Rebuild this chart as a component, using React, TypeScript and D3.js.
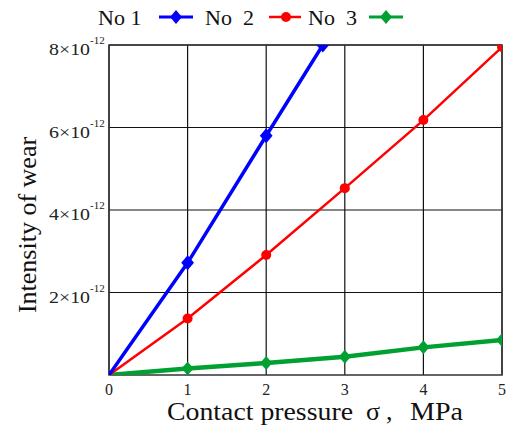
import * as d3 from 'd3';

// pressure values (MPa)
const X_VALUES = [0, 1, 2, 3, 4, 5];
// intensity of wear, in units of 1e-12
const NO1 = [0, 2.72, 5.8, 8.0];
const NO1_X = [0, 1, 2, 2.72];
const NO2 = [0, 1.37, 2.91, 4.53, 6.18, 7.95];
const NO3 = [0, 0.16, 0.29, 0.44, 0.67, 0.85];

const X_TICKS = [0, 1, 2, 3, 4, 5];
const Y_TICKS = [2, 4, 6, 8];
const LEGEND = ['No 1', 'No  2', 'No  3'];

const W = 506;
const H = 430;
const margin = { top: 45, right: 4, bottom: 55, left: 109 };
const SERIF = { fontFamily: '"Liberation Serif"' };

function diamond(cx: number, cy: number, r: number) {
  return `M${cx},${cy - r}L${cx + r * 0.85},${cy}L${cx},${cy + r}L${cx - r * 0.85},${cy}Z`;
}

export default function App() {
  const innerW = W - margin.left - margin.right;
  const innerH = H - margin.top - margin.bottom;

  const x = d3.scaleLinear().domain([0, 5]).range([0, innerW]);
  const y = d3.scaleLinear().domain([0, 8]).range([innerH, 0]);

  const line = d3.line<[number, number]>().x(d => x(d[0])).y(d => y(d[1]));

  const s1: [number, number][] = NO1_X.map((v, i) => [v, NO1[i]]);
  const s2: [number, number][] = X_VALUES.map((v, i) => [v, NO2[i]]);
  const s3: [number, number][] = X_VALUES.map((v, i) => [v, NO3[i]]);

  const blue = '#0000ff';
  const red = '#ff0000';
  const green = '#00a032';

  return (
    <svg width={W} height={H} style={{ position: 'absolute', left: 0, top: 0 }}>
      <style>{'text { font-family: "Liberation Serif", "Times New Roman", serif !important; }'}</style>
      <rect width={W} height={H} fill="#fff" />
      <defs>
        <clipPath id="plot">
          <rect x={0} y={0} width={innerW} height={innerH} />
        </clipPath>
      </defs>

      {/* Legend */}
      <g fill="#111">
        <text x={98} y={25} fontSize={22} style={SERIF}>{LEGEND[0]}</text>
        <line x1={159} x2={193} y1={17} y2={17} stroke={blue} strokeWidth={3} />
        <path d={diamond(176, 17, 7)} fill={blue} />
        <text x={205} y={25} fontSize={22} style={{ ...SERIF, whiteSpace: 'pre' }}>{LEGEND[1]}</text>
        <line x1={269} x2={301} y1={17} y2={17} stroke={red} strokeWidth={2.5} />
        <circle cx={286} cy={17} r={5} fill={red} />
        <text x={308} y={25} fontSize={22} style={{ ...SERIF, whiteSpace: 'pre' }}>{LEGEND[2]}</text>
        <line x1={369} x2={403} y1={17} y2={17} stroke={green} strokeWidth={3} />
        <path d={diamond(386, 17, 7)} fill={green} />
      </g>

      <g transform={`translate(${margin.left},${margin.top})`}>
        {/* Grid */}
        {X_TICKS.map(t => (
          <line key={`gx${t}`} x1={x(t)} x2={x(t)} y1={0} y2={innerH} stroke="#111" strokeWidth={1.2} />
        ))}
        {Y_TICKS.map(t => (
          <line key={`gy${t}`} x1={0} x2={innerW} y1={y(t)} y2={y(t)} stroke="#111" strokeWidth={1.2} />
        ))}
        <rect x={0} y={0} width={innerW} height={innerH} fill="none" stroke="#333" strokeWidth={1.5} />

        {/* Series */}
        <g clipPath="url(#plot)">
          <path d={line(s3) ?? ''} fill="none" stroke={green} strokeWidth={4.5} />
          {s3.slice(1).map(d => (
            <path key={`g${d[0]}`} d={diamond(x(d[0]), y(d[1]), 7)} fill={green} />
          ))}
          <path d={line(s2) ?? ''} fill="none" stroke={red} strokeWidth={2.5} />
          {s2.slice(1).map(d => (
            <circle key={`r${d[0]}`} cx={x(d[0])} cy={y(d[1])} r={5} fill={red} />
          ))}
          <path d={line(s1) ?? ''} fill="none" stroke={blue} strokeWidth={3.5} />
          {s1.slice(1).map(d => (
            <path key={`b${d[0]}`} d={diamond(x(d[0]), y(d[1]), 7.5)} fill={blue} />
          ))}
        </g>

        {/* X tick labels */}
        {X_TICKS.map(t => (
          <text key={`tx${t}`} x={x(t)} y={innerH + 20} textAnchor="middle"
            style={SERIF} fontSize={16} fill="#222">
            {t}
          </text>
        ))}

        {/* Y tick labels */}
        {Y_TICKS.map(t => (
          <g key={`ty${t}`} transform={`translate(0,${y(t)})`} fill="#222">
            <text x={-60} y={10} fontSize={17} style={SERIF} textLength={41} lengthAdjust="spacingAndGlyphs">{`${t}\u00d710`}</text>
            <text x={-19} y={-1} fontSize={11} style={SERIF}>-12</text>
          </g>
        ))}
      </g>

      {/* Axis titles */}
      <text transform={`translate(36,${225}) rotate(-90)`} textAnchor="middle"
        style={SERIF} fontSize={26} fill="#111">
        Intensity of wear
      </text>
      <g fill="#111">
        <text x={167} y={420} fontSize={26} style={SERIF} textLength={186} lengthAdjust="spacingAndGlyphs">Contact pressure</text>
        <text x={366} y={420} fontSize={26} style={SERIF}>σ</text>
        <text x={386} y={420} fontSize={26} style={SERIF}>,</text>
        <text x={410} y={420} fontSize={26} style={SERIF} textLength={53} lengthAdjust="spacingAndGlyphs">MPa</text>
      </g>
    </svg>
  );
}
